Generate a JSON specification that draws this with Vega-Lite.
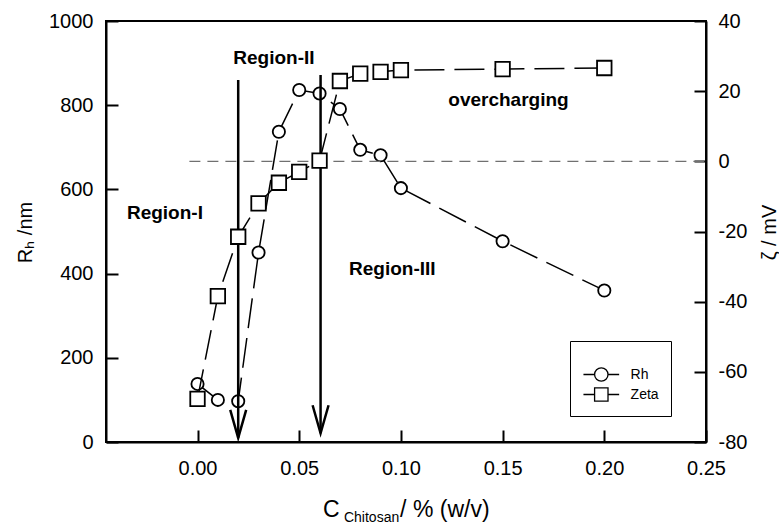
{
  "$schema": "https://vega.github.io/schema/vega-lite/v6.json",
  "width": 600,
  "height": 421,
  "autosize": {"type": "none"},
  "padding": {"left": 106, "top": 21, "right": 73, "bottom": 83},
  "background": "white",
  "config": {
    "font": "Liberation Sans",
    "view": {"stroke": "black", "strokeWidth": 2},
    "axis": {
      "domainColor": "black", "domainWidth": 2,
      "tickColor": "black", "tickWidth": 2, "tickSize": -12,
      "labelFont": "Liberation Sans", "labelFontSize": 20, "labelColor": "black",
      "labelFlush": false, "labelOverlap": false, "labelBound": false,
      "grid": false,
      "titleFont": "Liberation Sans", "titleFontSize": 20, "titleFontWeight": "normal", "titleColor": "black"
    }
  },
  "datasets": {
    "rh": [
      {"x": 0.00, "rh": 138}, {"x": 0.01, "rh": 100}, {"x": 0.02, "rh": 97},
      {"x": 0.03, "rh": 450}, {"x": 0.04, "rh": 737}, {"x": 0.05, "rh": 836},
      {"x": 0.06, "rh": 828}, {"x": 0.07, "rh": 791}, {"x": 0.08, "rh": 694},
      {"x": 0.09, "rh": 681}, {"x": 0.10, "rh": 603}, {"x": 0.15, "rh": 477},
      {"x": 0.20, "rh": 360}
    ],
    "zeta": [
      {"x": 0.00, "zeta": -67.7}, {"x": 0.01, "zeta": -38.4}, {"x": 0.02, "zeta": -21.5},
      {"x": 0.03, "zeta": -12.0}, {"x": 0.04, "zeta": -6.1}, {"x": 0.05, "zeta": -3.0},
      {"x": 0.06, "zeta": 0.2}, {"x": 0.07, "zeta": 22.9}, {"x": 0.08, "zeta": 25.0},
      {"x": 0.09, "zeta": 25.5}, {"x": 0.10, "zeta": 26.0}, {"x": 0.15, "zeta": 26.3},
      {"x": 0.20, "zeta": 26.6}
    ],
    "arrows": [
      {"x": 0.02, "top": 860, "tip": 10, "head": 43},
      {"x": 0.0605, "top": 872, "tip": 21, "head": 54}
    ],
    "notes": [
      {"x": -0.0347, "y": 529, "label": "Region-I"},
      {"x": 0.0176, "y": 898, "label": "Region-II"},
      {"x": 0.0745, "y": 397, "label": "Region-III"},
      {"x": 0.1233, "y": 798, "label": "overcharging"}
    ],
    "xtitleMain": [
      {"x": 0.0617, "y": -178, "label": "C"},
      {"x": 0.0996, "y": -178, "label": "/ % (w/v)"}
    ],
    "xtitleSub": [
      {"x": 0.0720, "y": -190, "label": "Chitosan"}
    ],
    "zero": [{"x": -0.004, "x2": 0.25, "zeta": 0}],
    "legend": [
      {"x": 0.1, "zeta": 0, "series": "Rh"},
      {"x": 0.1, "zeta": 0, "series": "Zeta"}
    ]
  },
  "encoding": {
    "x": {
      "field": "x", "type": "quantitative",
      "scale": {"domain": [-0.045, 0.25], "nice": false, "zero": false},
      "axis": {"values": [0, 0.05, 0.1, 0.15, 0.2, 0.25], "format": ".2f", "title": null, "labelPadding": 28}
    }
  },
  "layer": [
    {
      "layer": [
        {
          "data": {"name": "rh"},
          "mark": {"type": "line", "color": "black", "strokeWidth": 1.5, "strokeDash": [30, 10]},
          "encoding": {
            "y": {
              "field": "rh", "type": "quantitative",
              "scale": {"domain": [0, 1000], "nice": false, "zero": false},
              "axis": {
                "values": [0, 200, 400, 600, 800, 1000], "format": "d",
                "title": "Rₕ /nm", "titleAngle": -90, "titleX": -81, "titleY": 211,
                "titleAlign": "center", "titleBaseline": "middle", "labelPadding": 25
              }
            }
          }
        },
        {
          "data": {"name": "rh"},
          "mark": {"type": "point", "shape": "circle", "size": 150, "filled": true, "fill": "white", "stroke": "black", "strokeWidth": 1.8, "opacity": 1},
          "encoding": {"y": {"field": "rh", "type": "quantitative"}}
        },
        {
          "data": {"name": "arrows"},
          "mark": {"type": "rule", "color": "black", "strokeWidth": 2.5},
          "encoding": {"y": {"field": "top", "type": "quantitative"}, "y2": {"field": "tip"}}
        },
        {
          "data": {"name": "arrows"},
          "mark": {"type": "point", "shape": "M -0.57 -1 L 0 1 L 0.57 -1", "size": 784, "filled": false, "stroke": "black", "strokeWidth": 2.5, "opacity": 1},
          "encoding": {"y": {"field": "head", "type": "quantitative"}}
        },
        {
          "data": {"name": "notes"},
          "mark": {"type": "text", "font": "Liberation Sans", "fontWeight": "bold", "fontSize": 19, "align": "left", "baseline": "alphabetic", "color": "black"},
          "encoding": {"y": {"field": "y", "type": "quantitative"}, "text": {"field": "label"}}
        },
        {
          "data": {"name": "xtitleMain"},
          "mark": {"type": "text", "font": "Liberation Sans", "fontSize": 23, "align": "left", "baseline": "alphabetic", "color": "black"},
          "encoding": {"y": {"field": "y", "type": "quantitative"}, "text": {"field": "label"}}
        },
        {
          "data": {"name": "xtitleSub"},
          "mark": {"type": "text", "font": "Liberation Sans", "fontSize": 14, "align": "left", "baseline": "alphabetic", "color": "black"},
          "encoding": {"y": {"field": "y", "type": "quantitative"}, "text": {"field": "label"}}
        }
      ]
    },
    {
      "layer": [
        {
          "data": {"name": "zero"},
          "mark": {"type": "rule", "color": "#707070", "strokeWidth": 1.3, "strokeDash": [11, 7]},
          "encoding": {
            "x2": {"field": "x2"},
            "y": {
              "field": "zeta", "type": "quantitative",
              "scale": {"domain": [-80, 40], "nice": false, "zero": false},
              "axis": {
                "orient": "right",
                "values": [-80, -60, -40, -20, 0, 20, 40],
                "title": "ζ / mV", "titleAngle": -90, "titleX": 63, "titleY": 211,
                "titleAlign": "center", "titleBaseline": "middle", "labelPadding": 24,
                "labelExpr": "datum.value < 0 ? '-' + format(-datum.value, 'd') : '\u00a0' + datum.label"
              }
            }
          }
        },
        {
          "data": {"name": "zeta"},
          "mark": {"type": "line", "color": "black", "strokeWidth": 1.5, "strokeDash": [30, 10]},
          "encoding": {"y": {"field": "zeta", "type": "quantitative"}}
        },
        {
          "data": {"name": "zeta"},
          "mark": {"type": "point", "shape": "square", "size": 210, "filled": true, "fill": "white", "stroke": "black", "strokeWidth": 1.8, "opacity": 1},
          "encoding": {"y": {"field": "zeta", "type": "quantitative"}}
        },
        {
          "data": {"name": "legend"},
          "mark": {"type": "point", "filled": false, "color": "black", "opacity": 0},
          "encoding": {
            "y": {"field": "zeta", "type": "quantitative"},
            "shape": {
              "field": "series", "type": "nominal",
              "scale": {
                "domain": ["Rh", "Zeta"],
                "range": [
                  "M -2.66 0 L -1 0 M 1 0 L 2.66 0 M 1 0 A 1 1 0 1 1 -1 0 A 1 1 0 1 1 1 0",
                  "M -2.66 0 L -1 0 M 1 0 L 2.66 0 M -1 -1 L 1 -1 L 1 1 L -1 1 Z"
                ]
              },
              "legend": {
                "orient": "none", "legendX": 464, "legendY": 320,
                "title": "                          ", "titleFontSize": 12, "titlePadding": 2,
                "padding": 12, "strokeColor": "black", "fillColor": "white", "cornerRadius": 0,
                "symbolSize": 180, "symbolStrokeColor": "black", "symbolFillColor": "white",
                "symbolStrokeWidth": 1.3, "symbolOpacity": 1, "symbolOffset": 11.8,
                "labelOffset": 21.8, "labelFontSize": 14, "labelFont": "Liberation Sans",
                "labelColor": "black", "rowPadding": 1
              }
            }
          }
        }
      ]
    }
  ],
  "resolve": {"scale": {"y": "independent"}}
}
